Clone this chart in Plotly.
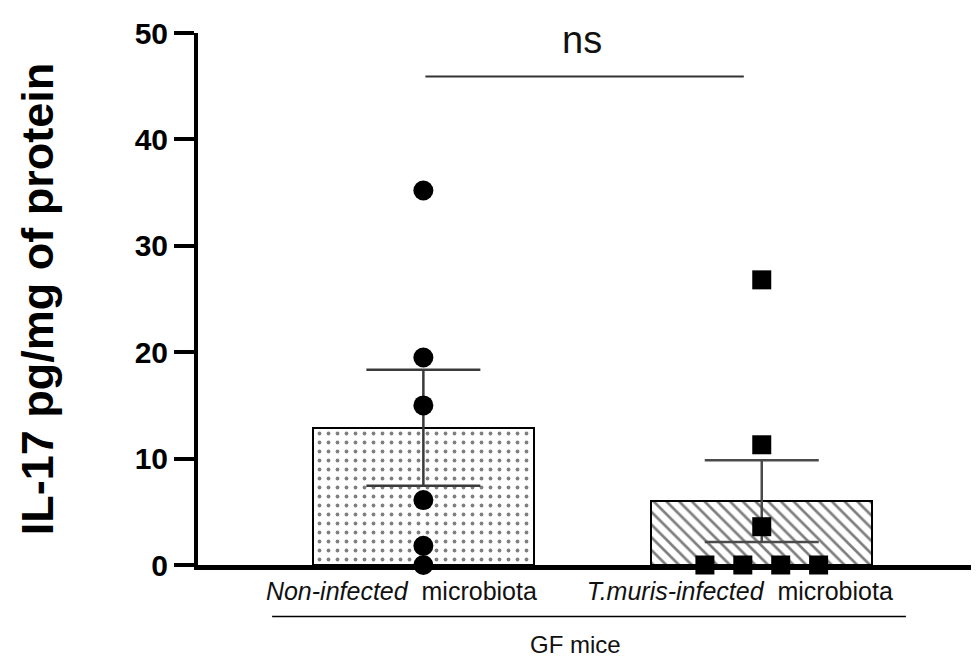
import plotly.graph_objects as go
from collections import Counter

# ---- data ----
groups = ["<i>Non-infected</i>  microbiota", "<i>T.muris-infected</i>  microbiota"]
bar_means = [12.9, 6.0]
bar_sem = [5.45, 3.85]
points_noninf = [35.2, 19.5, 15.0, 6.1, 1.8, 0.0]
points_tmuris = [26.8, 11.3, 3.6, 0.0, 0.0, 0.0, 0.0]
y_ticks = [0, 10, 20, 30, 40, 50]
sig_label = "ns"
group_label = "GF mice"

FONT = "Liberation Sans, Arial, sans-serif"
gx = list(range(len(groups)))

def spread(vals, center, step=0.112):
    counts = Counter(vals)
    seen = Counter()
    xs = []
    for v in vals:
        n = counts[v]
        xs.append(center + (seen[v] - (n - 1) / 2) * step)
        seen[v] += 1
    return xs

fig = go.Figure()
fig.add_trace(go.Bar(
    x=[gx[0]], y=[bar_means[0]], width=0.654,
    marker=dict(color="white", line=dict(color="black", width=2),
                pattern=dict(shape=".", fgcolor="black", bgcolor="white", size=9, solidity=0.14)),
    error_y=dict(type="data", array=[bar_sem[0]], visible=True, color="#3a3a3a", thickness=2.5, width=57),
    showlegend=False,
))
fig.add_trace(go.Bar(
    x=[gx[1]], y=[bar_means[1]], width=0.654,
    marker=dict(color="white", line=dict(color="black", width=2),
                pattern=dict(shape="\\", fgcolor="black", bgcolor="white", size=9, solidity=0.3)),
    error_y=dict(type="data", array=[bar_sem[1]], visible=True, color="#4a4a4a", thickness=2.5, width=57),
    showlegend=False,
))
fig.add_trace(go.Scatter(
    x=spread(points_noninf, gx[0]), y=points_noninf, mode="markers",
    marker=dict(symbol="circle", size=20, color="black"), cliponaxis=False, showlegend=False,
))
fig.add_trace(go.Scatter(
    x=spread(points_tmuris, gx[1]), y=points_tmuris, mode="markers",
    marker=dict(symbol="square", size=19, color="black"), cliponaxis=False, showlegend=False,
))

# significance bracket
fig.add_shape(type="line", xref="x", yref="y", x0=0.006, x1=0.947, y0=45.9, y1=45.9,
              line=dict(color="#333", width=2))
fig.add_annotation(x=0.47, y=49.3, xref="x", yref="y", text=sig_label, showarrow=False,
                   yanchor="middle", font=dict(family=FONT, size=38, color="#111"))
# group line and label
fig.add_shape(type="line", xref="x", yref="paper", x0=-0.447, x1=1.426, y0=-0.0967, y1=-0.0967,
              line=dict(color="black", width=1.5))
fig.add_annotation(x=0.45, y=-0.15, xref="x", yref="paper", text=group_label, showarrow=False,
                   xanchor="center", yanchor="middle", font=dict(family=FONT, size=24, color="#111"))

# body of the page adds an 8px offset; margins compensate for it
fig.update_layout(
    width=979, height=661,
    margin=dict(l=190, r=8, t=19, b=104),
    plot_bgcolor="white", paper_bgcolor="white",
    bargap=0,
    font=dict(family=FONT, color="black"),
    xaxis=dict(
        range=[-0.666, 1.642], tickmode="array", tickvals=gx, ticktext=groups,
        showline=True, linecolor="black", linewidth=5, ticks="", showgrid=False, zeroline=False,
        tickfont=dict(family=FONT, size=25, color="#111"), ticklabelshift=-22,
    ),
    yaxis=dict(
        range=[0, 50], tickmode="array", tickvals=y_ticks,
        showline=True, linecolor="black", linewidth=4, ticks="outside", ticklen=20, tickwidth=4,
        tickcolor="black", showgrid=False, zeroline=False,
        tickfont=dict(family=FONT, size=30, weight=700, color="black"),
        title=dict(text="IL-17 pg/mg of protein", standoff=68,
                   font=dict(family=FONT, size=45, weight=700, color="black")),
    ),
)

fig.write_html("out.html")
